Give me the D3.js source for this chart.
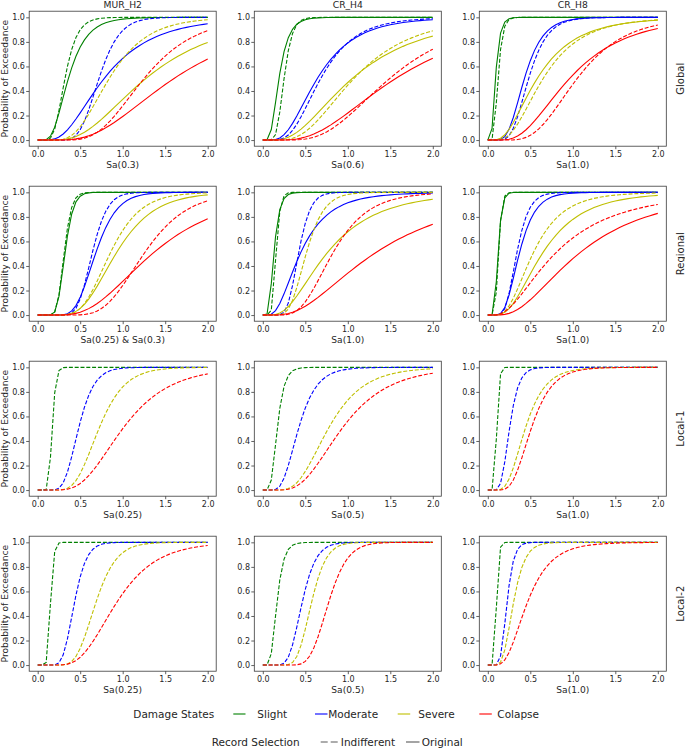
<!DOCTYPE html>
<html>
<head>
<meta charset="utf-8">
<script src="https://cdn.jsdelivr.net/npm/d3@7"></script>
<style>
  html, body { margin: 0; padding: 0; background: #fff; }
  svg { display: block; font-family: "DejaVu Sans", sans-serif; }
</style>
</head>
<body>
<svg id="chart" width="685" height="748"></svg>
<script>
// ---------------- DATA ----------------
const columns = ["MUR_H2", "CR_H4", "CR_H8"];
const rowLabels = ["Global", "Regional", "Local-1", "Local-2"];
const xAxisLabels = [
  ["Sa(0.3)", "Sa(0.6)", "Sa(1.0)"],
  ["Sa(0.25) & Sa(0.3)", "Sa(1.0)", "Sa(1.0)"],
  ["Sa(0.25)", "Sa(0.5)", "Sa(1.0)"],
  ["Sa(0.25)", "Sa(0.5)", "Sa(1.0)"]
];
const yAxisLabel = "Probability of Exceedance";
const damageStates = ["Slight", "Moderate", "Severe", "Colapse"];
const stateColors = ["#008000", "#0000ff", "#bfbf00", "#ff0000"];
const recordSelections = ["Indifferent", "Original"];
const xTicks = [0, 0.5, 1.0, 1.5, 2.0];
const yTicks = [0, 0.2, 0.4, 0.6, 0.8, 1.0];
// intensity values at which the fragility curves are plotted
const imGrid = [0,0.05,0.1,0.15,0.2,0.25,0.3,0.35,0.4,0.45,0.5,0.55,0.6,0.65,0.7,0.75,0.8,0.85,0.9,0.95,
                1.0,1.05,1.1,1.15,1.2,1.25,1.3,1.35,1.4,1.45,1.5,1.55,1.6,1.65,1.7,1.75,1.8,1.85,1.9,1.95,2.0];

// lognormal fragility parameters [row][column][damage state]
const medianIndifferent = [
  [[0.32, 0.72, 0.84, 1.25], [0.25, 0.68, 1.07, 1.49], [0.12, 0.48, 0.65, 1.05]],
  [[0.31, 0.64, 0.85, 1.25], [0.155, 0.42, 0.51, 0.82], [0.125, 0.34, 0.53, 0.79]],
  [[0.17, 0.48, 0.72, 1.00], [0.17, 0.42, 0.77, 0.93], [0.105, 0.255, 0.44, 0.51]],
  [[0.15, 0.43, 0.68, 0.92], [0.165, 0.46, 0.57, 0.77], [0.102, 0.225, 0.30, 0.46]]
];
const betaIndifferent = [
  [[0.35, 0.265, 0.42, 0.38], [0.30, 0.47, 0.51, 0.457], [0.35, 0.36, 0.55, 0.42]],
  [[0.22, 0.22, 0.33, 0.317], [0.25, 0.26, 0.32, 0.40], [0.25, 0.33, 0.52, 0.72]],
  [[0.20, 0.30, 0.33, 0.43], [0.38, 0.40, 0.42, 0.46], [0.22, 0.33, 0.42, 0.38]],
  [[0.20, 0.26, 0.28, 0.40], [0.38, 0.28, 0.24, 0.23], [0.22, 0.28, 0.35, 0.48]]
];
const medianOriginal = [
  [[0.36, 0.78, 1.27, 1.60], [0.19, 0.64, 1.05, 1.56], [0.09, 0.43, 0.58, 0.96]],
  [[0.32, 0.68, 0.92, 1.35], [0.13, 0.44, 0.75, 1.31], [0.12, 0.37, 0.64, 1.07]],
  null,
  null
];
const betaOriginal = [
  [[0.47, 0.58, 0.55, 0.54], [0.47, 0.55, 0.63, 0.578], [0.45, 0.40, 0.62, 0.55]],
  [[0.24, 0.29, 0.38, 0.50], [0.40, 0.60, 0.62, 0.66], [0.30, 0.40, 0.58, 0.66]],
  null,
  null
];

// ---------------- HELPERS ----------------
function erf(x) {
  const s = x < 0 ? -1 : 1; x = Math.abs(x);
  const t = 1 / (1 + 0.3275911 * x);
  const y = 1 - (((((1.061405429 * t - 1.453152027) * t) + 1.421413741) * t - 0.284496736) * t + 0.254829592) * t * Math.exp(-x * x);
  return s * y;
}
function lognCdf(x, med, beta) {
  if (x <= 0) return 0;
  return 0.5 * (1 + erf(Math.log(x / med) / (beta * Math.SQRT2)));
}

// ---------------- LAYOUT ----------------
const svg = d3.select("#chart");
svg.append("rect").attr("width", 685).attr("height", 748).attr("fill", "#fff");

const panelW = 187, panelH = 135;
const colLeft = [29.2, 254.3, 479.3];
const rowTop = [11.2, 186.2, 361.2, 536.2];
const textColor = "#262626";
const spineColor = "#3a3a3a";

const x = d3.scaleLinear().domain([-0.1, 2.1]).range([0, panelW]);
const y = d3.scaleLinear().domain([-0.05, 1.05]).range([panelH, 0]);
const line = d3.line().x(d => x(d[0])).y(d => y(d[1]));

rowLabels.forEach((rowName, r) => {
  columns.forEach((colName, c) => {
    const g = svg.append("g").attr("transform", `translate(${colLeft[c]},${rowTop[r]})`);

    // axes
    const xa = g.append("g").attr("transform", `translate(0,${panelH})`)
      .call(d3.axisBottom(x).tickValues(xTicks).tickFormat(d3.format(".1f")).tickSize(3).tickPadding(2.6).tickSizeOuter(0));
    const ya = g.append("g")
      .call(d3.axisLeft(y).tickValues(yTicks).tickFormat(d3.format(".1f")).tickSize(3).tickPadding(1.3).tickSizeOuter(0));
    [xa, ya].forEach(a => {
      a.select(".domain").remove();
      a.selectAll("line").attr("stroke", spineColor).attr("stroke-width", 0.8);
      a.selectAll("text").attr("fill", textColor).attr("font-size", 8).attr("font-family", "DejaVu Sans");
    });

    // curves
    damageStates.forEach((ds, s) => {
      if (medianOriginal[r]) {
        const pts = imGrid.map(v => [v, lognCdf(v, medianOriginal[r][c][s], betaOriginal[r][c][s])]);
        g.append("path").attr("d", line(pts)).attr("fill", "none")
          .attr("stroke", stateColors[s]).attr("stroke-width", 1.1);
      }
      const ptsI = imGrid.map(v => [v, lognCdf(v, medianIndifferent[r][c][s], betaIndifferent[r][c][s])]);
      g.append("path").attr("d", line(ptsI)).attr("fill", "none")
        .attr("stroke", stateColors[s]).attr("stroke-width", 1.1).attr("stroke-dasharray", "4,1.8");
    });

    // frame
    g.append("rect").attr("width", panelW).attr("height", panelH)
      .attr("fill", "none").attr("stroke", spineColor).attr("stroke-width", 0.8);

    // x label
    g.append("text").attr("x", panelW / 2).attr("y", panelH + 21.5)
      .attr("text-anchor", "middle").attr("font-size", 9.1).attr("fill", textColor)
      .text(xAxisLabels[r][c]);

    // column titles
    if (r === 0) {
      g.append("text").attr("x", panelW / 2).attr("y", -3.4)
        .attr("text-anchor", "middle").attr("font-size", 9.2).attr("fill", textColor)
        .text(colName);
    }
    // y label
    if (c === 0) {
      svg.append("text").attr("transform", `translate(7.5,${rowTop[r] + panelH / 2}) rotate(-90)`)
        .attr("text-anchor", "middle").attr("font-size", 9.1).attr("fill", textColor)
        .text(yAxisLabel);
    }
    // row label
    if (c === 2) {
      svg.append("text").attr("transform", `translate(683.5,${rowTop[r] + panelH / 2}) rotate(-90)`)
        .attr("text-anchor", "middle").attr("font-size", 10).attr("fill", textColor)
        .text(rowName);
    }
  });
});

// ---------------- LEGEND ----------------
const lg = svg.append("g").attr("font-size", 10.5).attr("fill", textColor);
const row1Y = 714, row2Y = 742;
lg.append("text").attr("x", 133.3).attr("y", row1Y).attr("dy", "0.36em").text("Damage States");
const dsLine = [[233.3, 245.5], [315, 327.5], [397.7, 410.2], [479.3, 491.8]];
const dsText = [257.3, 328.2, 418.3, 497.3];
damageStates.forEach((ds, s) => {
  lg.append("line").attr("x1", dsLine[s][0]).attr("x2", dsLine[s][1]).attr("y1", row1Y).attr("y2", row1Y)
    .attr("stroke", stateColors[s]).attr("stroke-width", 1.1);
  lg.append("text").attr("x", dsText[s]).attr("y", row1Y).attr("dy", "0.36em").text(ds);
});
lg.append("text").attr("x", 211.7).attr("y", row2Y).attr("dy", "0.36em").text("Record Selection");
lg.append("line").attr("x1", 320.7).attr("x2", 339.5).attr("y1", row2Y).attr("y2", row2Y)
  .attr("stroke", "#5a5a5a").attr("stroke-width", 1.1).attr("stroke-dasharray", "7,3");
lg.append("text").attr("x", 340.8).attr("y", row2Y).attr("dy", "0.36em").text(recordSelections[0]);
lg.append("line").attr("x1", 406).attr("x2", 419.5).attr("y1", row2Y).attr("y2", row2Y)
  .attr("stroke", "#5a5a5a").attr("stroke-width", 1.1);
lg.append("text").attr("x", 421.7).attr("y", row2Y).attr("dy", "0.36em").text(recordSelections[1]);
</script>
</body>
</html>
